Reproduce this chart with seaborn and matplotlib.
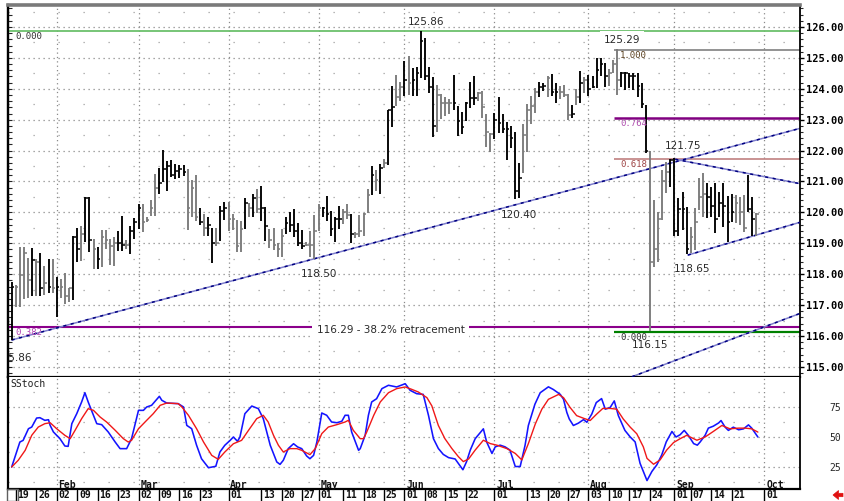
import numpy as np
import pandas as pd
import matplotlib
matplotlib.use("Agg")
import matplotlib.pyplot as plt
import seaborn as sns
from matplotlib.transforms import blended_transform_factory as btf
from matplotlib.patches import Polygon, Rectangle

# ---------------- data (trading-day index 0 = 16 Jan 2009) ----------------
highs = [117.76,117.65,118.87,118.87,118.53,118.85,118.50,118.70,118.27,118.50,
         118.48,117.90,117.86,118.03,117.56,119.24,119.50,119.55,120.50,120.50,
         119.15,118.88,119.42,119.42,119.15,119.20,119.39,119.87,119.10,119.56,
         119.82,120.27,120.27,119.84,120.39,121.25,121.43,122.03,121.65,121.68,
         121.57,121.54,121.52,121.39,121.06,121.22,120.14,119.95,119.84,119.50,
         119.50,120.22,120.35,120.34,119.95,119.75,119.73,120.48,120.32,120.61,
         120.75,120.84,120.16,119.46,119.50,119.00,119.46,119.86,120.00,120.10,
         119.65,119.43,119.03,119.39,119.92,120.27,120.18,120.52,120.03,119.86,
         120.22,120.10,120.27,119.95,119.35,119.92,119.97,120.75,121.50,121.37,
         121.58,121.72,123.33,124.09,124.46,124.23,124.91,125.05,124.68,124.70,
         125.86,125.65,124.70,124.38,124.12,123.84,123.73,123.66,124.46,123.44,
         123.26,123.58,124.23,124.41,123.90,123.92,123.19,122.58,123.23,123.73,
         123.19,122.94,122.80,122.61,121.61,122.87,123.52,123.76,124.01,124.23,
         124.19,124.41,124.48,124.19,124.09,124.11,123.84,123.48,123.98,124.59,
         124.38,124.44,124.41,125.00,125.00,124.82,124.63,124.93,125.29,124.55,
         124.55,124.52,124.50,124.50,124.18,123.48,122.00,120.40,120.02,121.37,
         121.64,121.72,121.75,120.46,120.67,120.19,119.54,120.13,121.10,121.26,
         120.94,120.83,120.94,120.67,120.94,120.53,120.60,120.56,120.51,120.56,
         121.21,120.51,119.99]
lows = [115.86,116.95,116.95,117.20,117.24,117.29,117.30,117.30,117.34,117.38,
        117.38,116.62,117.24,117.03,117.10,117.16,118.38,118.42,119.04,118.72,
        118.18,118.18,118.24,118.83,118.29,118.27,118.76,118.76,118.83,118.66,
        119.13,119.45,119.37,119.69,119.88,119.88,120.60,120.98,120.68,121.14,
        121.09,121.10,121.17,119.42,119.85,119.71,119.58,119.22,119.23,118.35,
        118.92,119.08,119.75,119.41,119.43,118.71,118.73,119.46,119.84,119.84,
        119.99,119.73,119.06,118.85,118.78,118.55,118.55,119.30,119.35,119.19,
        118.92,118.82,118.90,118.55,118.50,119.41,119.86,119.73,119.23,119.03,
        119.46,119.62,119.78,119.00,119.17,119.19,119.25,119.97,120.57,120.68,
        120.59,121.45,121.54,122.76,123.44,123.60,123.76,123.80,123.76,123.76,
        124.35,124.30,123.87,122.44,122.61,123.01,123.12,123.19,123.33,122.47,
        122.55,122.96,123.37,123.49,123.62,123.04,122.12,121.94,122.37,122.58,
        122.58,121.69,122.10,120.43,120.46,121.29,121.97,122.87,123.23,123.73,
        123.92,123.73,123.76,123.54,123.66,123.73,122.98,123.04,123.49,123.55,
        123.87,123.76,124.01,124.02,124.40,124.07,124.09,124.50,123.80,124.07,
        123.96,124.01,123.96,123.75,123.37,121.91,116.15,118.24,118.40,119.75,
        120.62,120.83,119.22,119.22,119.43,118.65,118.67,118.78,120.08,119.86,
        119.81,119.86,119.34,119.86,119.54,119.05,119.70,119.65,119.59,119.38,
        120.02,119.22,119.22]
closes = [117.60,117.60,117.98,118.70,117.80,118.45,118.40,117.55,117.70,117.60,
          117.55,117.60,117.60,117.30,117.55,119.20,118.80,119.30,120.45,119.10,
          118.80,118.50,119.20,119.10,118.90,119.00,119.00,118.95,118.95,119.40,
          119.70,120.15,119.70,119.75,120.15,120.80,120.95,121.40,121.50,121.20,
          121.35,121.40,121.30,120.15,120.80,119.85,119.70,119.50,119.60,119.00,
          119.00,120.05,120.15,119.80,119.80,118.90,119.45,120.30,120.15,120.45,
          120.10,120.15,119.55,119.10,118.95,118.80,119.25,119.65,119.60,119.40,
          119.00,118.90,118.95,118.95,119.40,120.15,120.15,119.95,119.45,119.80,
          119.80,120.00,119.90,119.30,119.30,119.40,119.95,120.55,121.20,121.05,
          121.45,121.60,123.30,123.40,123.75,124.05,124.30,124.20,124.30,124.50,
          125.55,124.40,124.05,122.80,123.80,123.55,123.55,123.55,123.55,122.95,
          122.75,123.55,123.70,123.70,123.85,123.40,122.60,122.55,123.00,122.90,
          122.70,122.70,122.40,120.70,121.10,122.50,123.30,123.45,123.90,124.05,
          124.10,124.35,123.90,123.90,123.90,123.80,123.15,123.20,123.75,124.20,
          124.30,124.00,124.05,124.60,124.80,124.40,124.50,124.80,124.30,124.50,
          124.50,124.40,124.40,124.10,123.50,122.00,118.40,118.80,119.80,121.00,
          121.30,121.70,119.40,120.10,120.10,118.80,119.20,119.70,120.50,120.60,
          120.50,120.20,119.80,120.30,120.20,119.70,120.00,120.30,120.00,119.50,
          120.10,119.80,119.95]
# bar tone: 'b' = dark bar, 'g' = grey bar
bar_tone = ("bggggbgbgb" "gbgggbbgbb" "gbggggbbgb" "bbggggbbbb" "bbbgggbgbb"
            "gbbggggbgb" "gbbggggbbb" "bbggggbbbb" "bggbggggbg" "bgbbggbgbb"
            "bbbbggggbb" "bbbbggggbb" "bbbbbggggb" "bgbbgggbgb" "gbbbbbgggb"
            "bbbbbbgggg" "gbbbbbgggg" "bbbbbbbggg" "bbg")

# slow stochastic (%K blue, %D red)
k_day = [0,2.0,2.8,4.1,4.9,6.1,6.9,8.1,9.0,9.4,10.2,11.8,13.0,13.8,14.7,15.9,17.1,17.9,18.7,20.0,
         20.8,22.0,23.6,25.3,26.5,28.1,29.3,31.0,32.2,33.0,34.2,36.1,36.7,37.9,40.7,42.0,42.8,44.0,45.2,46.4,
         48.1,49.9,50.9,52.1,53.4,54.2,55.2,55.8,57.0,57.9,58.7,60.3,61.5,63.2,64.8,65.6,66.4,67.6,68.9,69.9,
         70.9,72.1,72.9,73.8,74.6,75.8,77.0,78.2,79.5,80.7,81.5,82.3,83.1,84.8,85.2,86.4,87.2,88.0,89.2,90.5,
         92.1,94.1,96.2,97.4,99.0,
         100.6,101.9,103.1,104.3,105.5,106.8,108.4,110.3,111.2,112.1,113.3,115.3,116.1,117.4,118.2,119.4,120.6,121.8,123.1,124.3,
         125.5,126.3,127.9,129.2,131.2,132.4,134.1,134.9,135.7,136.3,137.3,138.5,139.8,140.6,141.8,142.9,144.2,145.1,146.3,147.3,
         148.3,149.9,151.2,152.4,153.6,155.3,156.5,157.7,158.9,160.0,161.4,162.4,163.4,164.4,165.4,166.7,167.6,168.3,169.5,170.3,
         171.5,172.8,173.4,174.4,175.2,176.4,177.7,178.9,180.1,180.9,182.4]
k_val = [25,45.8,47.2,56.9,58.3,65.8,66.1,63.9,64.4,59.7,54.2,48.6,42.5,42.2,61.1,69.4,79.2,86.9,79.2,68.1,
         61.1,60.3,54.2,45.8,40.3,40.3,48.6,72.2,72.2,75.0,76.4,83.9,80.6,78.3,77.8,75.0,59.7,56.9,43.1,31.9,
         24.4,25.6,37.5,43.1,47.2,50.0,46.4,50.0,69.4,72.8,75.8,73.6,65.3,43.1,29.2,27.2,30.6,40.3,44.4,41.7,
         40.3,34.2,31.9,34.7,45.8,70.0,68.1,62.5,61.9,63.1,68.1,68.1,54.2,38.9,40.3,51.4,68.1,79.2,81.9,90.3,
         93.1,91.7,94.4,88.9,86.1,
         85.5,67.8,48.6,40.4,35.5,32.8,31.7,22.7,29.5,39.1,48.6,56.8,45.9,36.3,41.8,43.2,41.8,39.1,25.4,25.4,
         43.2,59.6,77.3,86.9,91.8,89.6,85.5,81.4,70.5,65.0,59.6,61.5,64.5,62.3,69.1,78.7,82.0,73.2,74.6,80.1,
         67.8,55.5,50.0,45.9,28.1,13.7,21.3,26.8,35.0,45.9,54.6,50.0,51.9,55.5,51.4,44.5,43.2,45.9,51.4,57.4,
         59.0,61.7,63.7,58.2,55.5,58.2,56.0,56.8,60.1,57.4,50.0]
d_day = [0,1.6,3.3,4.9,6.5,8.1,9.4,11.0,13.0,14.3,15.5,17.1,18.7,20.0,21.6,23.2,25.3,27.3,28.5,29.3,
         31.0,33.0,34.6,36.3,37.9,40.7,41.6,43.2,45.2,46.9,48.9,50.5,52.1,54.2,56.2,57.9,59.9,61.5,62.7,64.0,
         65.2,66.4,68.0,69.7,70.9,72.9,74.2,75.8,77.4,79.5,81.5,82.3,83.5,85.2,86.0,86.8,88.5,90.1,92.1,94.1,
         96.2,97.8,99.4,
         101.5,102.7,104.3,105.9,107.6,109.2,110.4,111.7,113.3,115.3,117.0,118.6,121.0,123.1,124.7,126.3,128.0,129.6,131.2,133.7,
         134.9,136.5,138.1,139.8,141.4,143.0,144.5,146.3,147.9,149.5,151.2,152.8,154.4,155.3,156.9,158.5,160.1,161.8,163.4,165.0,
         167.5,169.5,171.5,173.6,175.6,177.7,179.3,180.9,182.4]
d_val = [25,30.6,38.9,51.4,58.3,61.1,61.9,56.9,51.4,48.6,55.6,65.3,73.6,72.2,66.7,62.5,55.6,48.6,45.8,47.2,
         56.9,63.9,69.4,76.4,78.3,77.8,75.0,68.1,56.9,45.8,34.7,31.4,37.5,44.4,47.2,55.6,65.3,68.1,62.5,51.4,
         43.1,37.5,40.3,40.3,38.9,35.3,40.3,52.8,58.3,60.3,62.5,63.9,55.6,48.6,48.6,54.2,68.1,79.2,86.9,90.3,
         91.7,89.7,87.5,
         82.8,76.0,59.6,48.6,40.4,33.6,29.5,31.7,39.1,47.3,44.5,43.2,40.4,36.3,30.9,44.5,60.9,73.2,81.4,85.5,
         82.8,74.6,67.8,65.6,63.7,69.1,73.8,73.8,73.2,65.0,58.2,52.7,41.8,32.2,27.3,30.9,39.1,45.4,48.6,51.4,
         47.3,50.0,54.6,59.6,56.8,57.4,57.4,56.8,54.1]

# trend lines (day, price) pairs
trend_main = [(0, 115.87), (192.7, 122.72)]
trend_low2 = [(151.6, 114.68), (192.7, 116.73)]
tri_upper = [(162.2, 121.72), (192.3, 120.94)]
tri_lower = [(165.3, 118.62), (192.7, 119.68)]

# Fibonacci retracement levels
fib_top, fib_bottom = 125.86, 116.29
fib_start = 147.3
fib_levels = [125.25, 123.05, 121.73, 116.13]
fib_names = ["1.000", "0.764", "0.618", "0.000"]

# calendar
month_idx = [11, 31, 53, 75, 96, 118, 141, 162, 184]
month_names = ["Feb", "Mar", "Apr", "May", "Jun", "Jul", "Aug", "Sep", "Oct"]
week_idx = [1, 6, 11, 16, 21, 26, 31, 36, 41, 46, 53, 61, 66, 71, 75, 81, 86, 91, 96, 101,
            106, 111, 118, 126, 131, 136, 141, 146, 151, 156, 162, 166, 171, 176, 184]
week_lab = ["19", "26", "02", "09", "16", "23", "02", "09", "16", "23", "01", "13", "20", "27",
            "01", "11", "18", "25", "01", "08", "15", "22", "01", "13", "20", "27", "03", "10",
            "17", "24", "01", "07", "14", "21", "01"]

# --------------------------- drawing --------------------------------------
sns.set_style("white")
plt.rcParams["font.family"] = ["DejaVu Sans"]
MONO = "DejaVu Sans Mono"

fig = plt.figure(figsize=(8.44, 5.01), dpi=100)
W, H = 844.0, 501.0
ax = fig.add_axes([8 / W, 1 - 377 / H, 792 / W, 372 / H])
ax2 = fig.add_axes([8 / W, 1 - 489 / H, 792 / W, 112 / H], sharex=ax)

XL = (-0.9, 192.7)
ax.set_xlim(*XL)
ax.set_ylim(114.673, 126.712)
ax2.set_ylim(6.67, 100)

# grid
for v in range(115, 127):
    ax.axhline(v, color="#8a8a8a", lw=0.9, ls=(0, (1, 3)), zorder=0)
    ax.axhline(v + 0.5, color="#a0a0a0", lw=0.9, ls=(0, (1, 19)), zorder=0)
for v in (25, 50, 75):
    ax2.axhline(v, color="#8a8a8a", lw=0.9, ls=(0, (1, 3)), zorder=0)
for v in (12.5, 37.5, 62.5, 87.5):
    ax2.axhline(v, color="#a0a0a0", lw=0.9, ls=(0, (1, 19)), zorder=0)
for m in month_idx:
    ax.axvline(m, color="#8a8a8a", lw=0.9, ls=(0, (1, 2.5)), zorder=0)
    ax2.axvline(m, color="#8a8a8a", lw=0.9, ls=(0, (1, 2.5)), zorder=0)

# OHLC bars
df = pd.DataFrame({"day": np.arange(len(highs)), "high": highs, "low": lows,
                   "close": closes, "tone": list(bar_tone)})
col = np.where(df["tone"] == "b", "#000000", "#7a7a7a")
ax.vlines(df["day"], df["low"], df["high"], colors=col, lw=1.35, zorder=3)
ax.hlines(df["close"], df["day"], df["day"] + 0.65, colors=col, lw=1.1, zorder=3)

# top green line and retracement line (full width)
ax.axhline(fib_top, color="#6cc06c", lw=1.3, zorder=2)
ax.axhline(fib_bottom, color="#8b008b", lw=1.5, zorder=2)

# fib levels on the right
fib_cols = ["#808080", "#800080", "#c08080", "#008000"]
fib_txt = ["#5a4020", "#b050b0", "#a04848", "#303030"]
fib_lw = [1.2, 1.8, 1.2, 1.6]
for lv, nm, c, tc, lw in zip(fib_levels, fib_names, fib_cols, fib_txt, fib_lw):
    ax.plot([fib_start, XL[1]], [lv, lv], color=c, lw=lw, zorder=2, solid_capstyle="butt")
    ax.text(fib_start + 1.4, lv - 0.03, nm, family=MONO, fontsize=6.5, color=tc,
            ha="left", va="top", zorder=4)
ax.text(0.8, fib_top - 0.03, "0.000", family=MONO, fontsize=6.5, color="#303030",
        ha="left", va="top", zorder=4)
ax.text(0.8, fib_bottom - 0.02, "0.382", family=MONO, fontsize=6.5, color="#b040b0",
        ha="left", va="top", zorder=4)

# trend lines
for seg in (trend_main, trend_low2, tri_upper, tri_lower):
    xs = [p[0] for p in seg]
    ys = [p[1] for p in seg]
    ax.plot(xs, ys, color="#7f7fcc", lw=1.1, zorder=2.5)
    ax.plot(xs, ys, color="#000080", lw=1.1, ls=(0, (2, 3)), zorder=2.6)

# price annotations
lab_kw = dict(fontsize=7.5, color="#2a2a2a", ha="center", va="center", zorder=5)
ax.text(101.2, 126.16, "125.86", **lab_kw)
ax.text(149.2, 125.59, "125.29", bbox=dict(fc="white", ec="none", pad=2.6), **lab_kw)
ax.text(164.2, 122.14, "121.75", **lab_kw)
ax.text(124.1, 119.92, "120.40", **lab_kw)
ax.text(75.0, 118.00, "118.50", **lab_kw)
ax.text(166.2, 118.18, "118.65", **lab_kw)
ax.text(156.1, 115.72, "116.15", **lab_kw)
ax.text(0.7, 115.28, "115.86", clip_on=True, **lab_kw)
ax.text(92.7, 116.18, "116.29 - 38.2% retracement",
        bbox=dict(fc="white", ec="none", pad=3.2), **lab_kw)

# stochastic
sns.lineplot(x=k_day, y=k_val, ax=ax2, color="#1414ff", lw=1.15, estimator=None, sort=False)
sns.lineplot(x=d_day, y=d_val, ax=ax2, color="#f01818", lw=1.0, estimator=None, sort=False)
ax2.set_xlim(*XL)
ax2.set_xlabel("")
ax2.set_ylabel("")
ax.set_xlabel("")
ax.set_ylabel("")
ax2.text(0.003, 0.985, "SStoch", transform=ax2.transAxes, family=MONO, fontsize=7,
         ha="left", va="top", color="#202020")
for m, nm in zip(month_idx, month_names):
    ax2.text(m + 0.45, 10.2, nm, family=MONO, fontsize=7, fontweight="bold",
             ha="left", va="center", color="#101010")

# ticks / spines
ax.yaxis.tick_right()
ax.set_yticks(np.arange(115, 127))
ax.set_yticklabels([f"{v:.3f}" for v in range(115, 127)], family=MONO,
                   fontsize=7.5, fontweight="bold")
ax.set_yticks(np.arange(114.8, 126.7, 0.2), minor=True)
ax.tick_params(axis="y", which="major", length=3, width=1, pad=1, colors="#000000")
ax.tick_params(axis="y", which="minor", length=2.5, width=0.8)
ax.tick_params(axis="x", which="both", bottom=False, labelbottom=False)
sec = ax.secondary_yaxis("left")
sec.set_yticks(np.arange(114.8, 126.7, 0.2))
sec.tick_params(direction="in", length=3, width=0.8, labelleft=False)
sec.spines["left"].set_linewidth(1.6)

ax2.yaxis.tick_right()
ax2.set_yticks([25, 50, 75])
ax2.set_yticklabels(["25", "50", "75"], family=MONO, fontsize=7)
ax2.tick_params(axis="y", length=0, pad=21)
ax2.tick_params(axis="x", which="both", bottom=False, labelbottom=False)

for a in (ax, ax2):
    for s in ("left", "right", "bottom", "top"):
        a.spines[s].set_visible(True)
        a.spines[s].set_color("#000000")
    a.spines["left"].set_linewidth(1.6)
    a.spines["right"].set_linewidth(1.3)
    a.spines["bottom"].set_linewidth(1.6)
ax.spines["top"].set_color("#7a7a7a")
ax.spines["top"].set_linewidth(2.6)
ax2.spines["top"].set_visible(False)

# date strip under the stochastic panel
tr = btf(ax2.transData, ax2.transAxes)
for d, lab in zip(week_idx, week_lab):
    ax2.plot([d, d], [-0.01, -0.11], transform=tr, color="#000000", lw=1.0, clip_on=False)
    ax2.text(d + 0.45, -0.058, lab, transform=tr, family=MONO, fontsize=7,
             fontweight="bold", ha="left", va="center", clip_on=False, color="#101010")

fig.add_artist(Rectangle((7 / W, 0.0), 11 / W, 12.5 / H, transform=fig.transFigure,
                         fill=False, ec="#606060", lw=1.0))
arrow = [(833, 495), (838.5, 490.5), (838.5, 493.3), (843, 493.3),
         (843, 496.7), (838.5, 496.7), (838.5, 499.5)]
fig.add_artist(Polygon([(x / W, 1 - y / H) for x, y in arrow], closed=True,
                       transform=fig.transFigure, fc="#e01010", ec="#e01010", lw=0.5))

fig.savefig("out.png", dpi=100, facecolor="white")
